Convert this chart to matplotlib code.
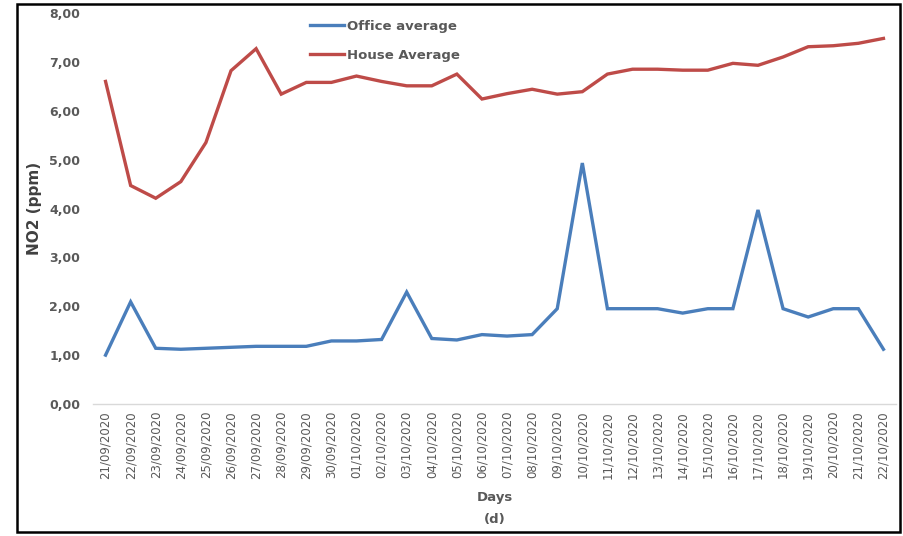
import matplotlib
matplotlib.use("Agg")
import matplotlib.pyplot as plt
from matplotlib.patches import Rectangle

# daily NO2 averages, 21/09/2020 - 22/10/2020
days = ["21/09/2020", "22/09/2020", "23/09/2020", "24/09/2020", "25/09/2020",
        "26/09/2020", "27/09/2020", "28/09/2020", "29/09/2020", "30/09/2020",
        "01/10/2020", "02/10/2020", "03/10/2020", "04/10/2020", "05/10/2020",
        "06/10/2020", "07/10/2020", "08/10/2020", "09/10/2020", "10/10/2020",
        "11/10/2020", "12/10/2020", "13/10/2020", "14/10/2020", "15/10/2020",
        "16/10/2020", "17/10/2020", "18/10/2020", "19/10/2020", "20/10/2020",
        "21/10/2020", "22/10/2020"]

office = [1.00, 2.09, 1.14, 1.12, 1.14, 1.16, 1.18, 1.18, 1.18, 1.29,
          1.29, 1.32, 2.29, 1.34, 1.31, 1.42, 1.39, 1.42, 1.95, 4.93,
          1.95, 1.95, 1.95, 1.86, 1.95, 1.95, 3.97, 1.95, 1.78, 1.95,
          1.95, 1.12]

house = [6.60, 4.47, 4.21, 4.55, 5.35, 6.82, 7.27, 6.34, 6.58, 6.58,
         6.71, 6.60, 6.51, 6.51, 6.75, 6.24, 6.35, 6.44, 6.34, 6.39,
         6.75, 6.85, 6.85, 6.83, 6.83, 6.97, 6.93, 7.10, 7.31, 7.33,
         7.38, 7.48]

yticks = [0, 1, 2, 3, 4, 5, 6, 7, 8]

txt_gray = "#595959"

fig = plt.figure(figsize=(9.04, 5.36), dpi=100)
ax = fig.add_axes([93 / 904, 1 - 404 / 536, (896 - 93) / 904, (404 - 13) / 536])

x = list(range(len(days)))
ax.plot(x, office, color="#4A7EBB", lw=2.4, label="Office average", solid_joinstyle="miter")
ax.plot(x, house, color="#BE4B48", lw=2.4, label="House Average", solid_joinstyle="miter")

ax.set_xlim(-0.5, len(days) - 0.5)
ax.set_ylim(0, 8)
ax.set_yticks(yticks)
ax.set_yticklabels(["{:.2f}".format(v).replace(".", ",") for v in yticks],
                   fontsize=9, fontweight="bold", color=txt_gray)
ax.set_xticks(x)
ax.set_xticklabels(days, rotation=90, fontsize=8.5, color=txt_gray)
ax.tick_params(axis="y", length=0, pad=9)
ax.tick_params(axis="x", length=0, pad=5)

for s in ["top", "right", "left"]:
    ax.spines[s].set_visible(False)
ax.spines["bottom"].set_color("#d9d9d9")
ax.spines["bottom"].set_linewidth(1)

ax.set_ylabel("NO2 (ppm)", fontsize=11, fontweight="bold", color="#404040")
ax.yaxis.set_label_coords(-0.063, 0.5)
ax.set_xlabel("Days\n(d)", fontsize=9.5, fontweight="bold", color=txt_gray, labelpad=9,
              linespacing=1.9)

leg = ax.legend(loc="upper left", bbox_to_anchor=(0.255, 1.013), frameon=False,
                handlelength=2.6, handletextpad=0.2, labelspacing=1.2,
                prop={"weight": "bold", "size": 9.5})
for t in leg.get_texts():
    t.set_color(txt_gray)

# outer frame
fig.patches.append(Rectangle((17 / 904, 4 / 536), 883 / 904, 528 / 536,
                             transform=fig.transFigure, fill=False,
                             edgecolor="black", lw=1.8))

fig.savefig("out.png", dpi=100)
